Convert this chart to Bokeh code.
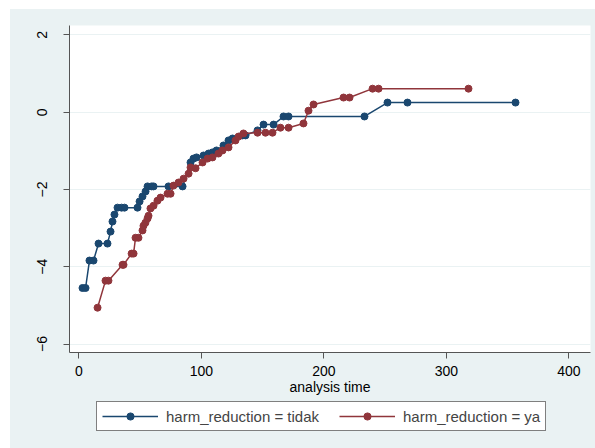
from bokeh.plotting import figure
from bokeh.layouts import column
from bokeh.models import Range1d, FixedTicker, Legend, LegendItem
from bokeh.embed import file_html
from bokeh.resources import INLINE

# harm_reduction = tidak
tidak_time = [3.0, 5.5, 8.7, 12.0, 16.1, 23.4, 25.9, 27.5, 29.1, 31.6, 34.9, 37.3,
              47.9, 49.6, 52.0, 54.5, 56.1, 59.4, 61.0, 73.2, 84.7, 91.2, 93.6, 96.1,
              101.8, 105.9, 109.1, 112.4, 118.1, 122.2, 125.5, 133.6, 136.1, 145.9,
              150.8, 159.0, 167.1, 171.2, 233.2, 252.0, 268.3, 356.5]
tidak_val = [-4.55, -4.55, -3.84, -3.84, -3.40, -3.40, -3.09, -2.83, -2.65, -2.47, -2.47, -2.47,
             -2.47, -2.31, -2.18, -2.05, -1.92, -1.92, -1.92, -1.92, -1.92, -1.30, -1.20, -1.17,
             -1.12, -1.07, -1.04, -0.99, -0.86, -0.73, -0.68, -0.60, -0.60, -0.47,
             -0.32, -0.32, -0.11, -0.11, -0.11, 0.25, 0.25, 0.25]

# harm_reduction = ya
ya_time = [15.3, 21.8, 24.2, 35.7, 36.5, 43.1, 44.7, 46.3, 48.7, 52.0, 52.8, 54.4, 56.1,
           56.9, 58.5, 61.0, 64.2, 66.7, 72.4, 74.9, 77.3, 81.4, 85.5, 89.6, 91.2, 95.3,
           101.0, 105.1, 109.1, 114.0, 117.3, 122.2, 127.9, 130.4, 134.4, 145.9, 152.4,
           158.1, 164.6, 171.2, 183.4, 187.5, 191.6, 216.1, 221.0, 239.8, 244.7, 318.1]
ya_val = [-5.06, -4.36, -4.36, -3.95, -3.95, -3.66, -3.66, -3.25, -3.25, -3.06, -2.94, -2.86, -2.75,
          -2.68, -2.49, -2.42, -2.29, -2.21, -2.11, -2.11, -1.90, -1.82, -1.72, -1.59, -1.43, -1.45,
          -1.30, -1.20, -1.17, -1.07, -0.99, -0.91, -0.73, -0.63, -0.55, -0.53, -0.53,
          -0.53, -0.40, -0.40, -0.29, 0.04, 0.20, 0.38, 0.38, 0.61, 0.61, 0.61]

labels = ["harm_reduction = tidak", "harm_reduction = ya"]
x_ticks = [0, 100, 200, 300, 400]
y_ticks = [-6, -4, -2, 0, 2]

NAVY = "#1A476F"
MAROON = "#90353B"
BG = "#EAF2F3"
FONT = "Liberation Sans"


def add_series(fig):
    r = []
    for xs, ys, c in ((tidak_time, tidak_val, NAVY), (ya_time, ya_val, MAROON)):
        ln = fig.line(xs, ys, line_color=c, line_width=1.5)
        sc = fig.scatter(xs, ys, size=7, fill_color=c, line_color=c)
        r.append([ln, sc])
    return r


# main plot
p = figure(width=585, height=391, output_backend="svg", toolbar_location=None,
           x_range=Range1d(-7.6, 417.7), y_range=Range1d(-6.22, 2.245),
           min_border_left=59, min_border_right=5, min_border_top=16, min_border_bottom=48,
           background_fill_color="white", border_fill_color=BG,
           outline_line_color=None, margin=0)
add_series(p)

p.xgrid.grid_line_color = None
p.ygrid.grid_line_color = BG
p.ygrid.grid_line_width = 1.2

for ax in (p.xaxis, p.yaxis):
    ax.axis_line_color = "#555555"
    ax.major_tick_line_color = "#555555"
    ax.major_tick_out = 6
    ax.major_tick_in = 0
    ax.minor_tick_line_color = None
    ax.major_label_text_font = FONT
    ax.major_label_text_font_size = "14px"
    ax.major_label_text_color = "black"

p.xaxis.ticker = FixedTicker(ticks=x_ticks)
p.yaxis.ticker = FixedTicker(ticks=y_ticks)
p.xaxis.major_label_standoff = 7
p.yaxis.major_label_standoff = 16
p.yaxis.major_label_orientation = "vertical"
p.xaxis.axis_label = "analysis time"
p.xaxis.axis_label_text_font = FONT
p.xaxis.axis_label_text_font_size = "14px"
p.xaxis.axis_label_text_font_style = "normal"
p.xaxis.axis_label_text_color = "black"
p.xaxis.axis_label_standoff = 0

# legend strip under the plot: same series, ranges kept away from the data;
# its frame lines up with the main frame (same side borders)
leg = figure(width=585, height=48, output_backend="svg", toolbar_location=None,
             x_range=Range1d(-20, -10), y_range=Range1d(-20, -10),
             x_axis_type=None, y_axis_type=None,
             min_border_left=59, min_border_right=5, min_border_top=0, min_border_bottom=0,
             background_fill_color=BG, border_fill_color=BG,
             outline_line_color=None, margin=0)
leg_r = add_series(leg)
leg.xgrid.grid_line_color = None
leg.ygrid.grid_line_color = None

legend = Legend(items=[LegendItem(label=labels[0], renderers=leg_r[0]),
                       LegendItem(label=labels[1], renderers=leg_r[1])],
                orientation="horizontal", location=(27, 17),
                glyph_width=56, glyph_height=18, label_height=18, label_standoff=8,
                spacing=20, padding=5, margin=0,
                label_text_font=FONT, label_text_font_size="15px",
                border_line_color="black", border_line_width=1,
                background_fill_color="white", background_fill_alpha=1.0)
leg.add_layout(legend, "center")

page = column(p, leg, spacing=0, width=585, height=439, margin=(9, 0, 0, 10),
              styles={"background-color": BG, "overflow": "hidden"})
open("out.html", "w").write(file_html(page, INLINE))
